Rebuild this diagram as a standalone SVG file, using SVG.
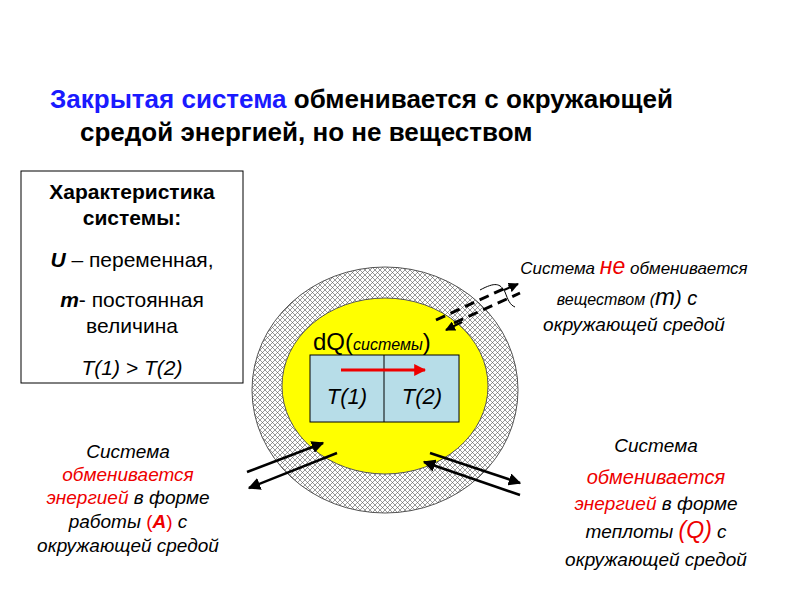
<svg xmlns="http://www.w3.org/2000/svg" width="800" height="600" viewBox="0 0 800 600">
<defs>
<pattern id="hatch" width="5" height="5" patternUnits="userSpaceOnUse">
<rect width="5" height="5" fill="#fff"/>
<path d="M0,0L5,5M5,0L0,5" stroke="#555" stroke-width="0.6"/>
</pattern>
<marker id="ah" viewBox="0 0 10 10" refX="9" refY="5" markerWidth="5" markerHeight="5" orient="auto"><path d="M0,0L10,5L0,10z" fill="#000"/></marker>
<marker id="rh" viewBox="0 0 10 10" refX="9" refY="5" markerWidth="4" markerHeight="4" orient="auto"><path d="M0,0L10,5L0,10z" fill="#e00"/></marker>
</defs>
<style>
text{font-family:"Liberation Sans",Arial,sans-serif;fill:#000}
.it{font-style:italic}
.r{fill:#e00}
.b{fill:#1a1aff}
.arr{stroke:#000;stroke-width:2.5;fill:none}
.dash{stroke:#000;stroke-width:3;stroke-dasharray:10 6;fill:none}
</style>
<g id="title" font-weight="bold" font-size="26">
<text x="50" y="108"><tspan class="b">Закрытая система</tspan> обменивается с окружающей</text>
<text x="80" y="141">средой энергией, но не веществом</text>
</g>
<g id="characteristics">
<rect x="21" y="171" width="222" height="212" fill="#fff" stroke="#000"/>
<g font-size="21" text-anchor="middle">
<text x="132" y="199" font-weight="bold">Характеристика</text>
<text x="132" y="225" font-weight="bold">системы:</text>
<text x="132" y="267"><tspan class="it" font-weight="bold">U</tspan> – переменная,</text>
<text x="132" y="307"><tspan class="it" font-weight="bold">m</tspan>- постоянная</text>
<text x="132" y="333">величина</text>
<text x="132" y="375" class="it">T(1) &gt; T(2)</text>
</g>
</g>
<g id="system">
<ellipse cx="385" cy="390" rx="133" ry="123" fill="url(#hatch)" stroke="#555"/>
<ellipse cx="385" cy="386" rx="103" ry="88" fill="#ffff00" stroke="#555"/>
<text x="313" y="350" font-size="24">dQ(<tspan class="it" font-size="16">системы</tspan>)</text>
<rect x="310" y="355" width="149" height="67" fill="#b7dde8" stroke="#000"/>
<line x1="384" y1="355" x2="384" y2="422" stroke="#000"/>
<text x="347" y="404" class="it" font-size="22" text-anchor="middle">T(1)</text>
<text x="422" y="404" class="it" font-size="22" text-anchor="middle">T(2)</text>
</g>
<g id="connectors">
<line x1="341" y1="370" x2="425" y2="370" stroke="#e00" stroke-width="3" marker-end="url(#rh)"/>
<line class="arr" x1="247" y1="472" x2="323" y2="443" marker-end="url(#ah)"/>
<line class="arr" x1="337" y1="453" x2="249" y2="488" marker-end="url(#ah)"/>
<line class="arr" x1="520" y1="495" x2="424" y2="462" marker-end="url(#ah)"/>
<line class="arr" x1="430" y1="453" x2="520" y2="483" marker-end="url(#ah)"/>
<line class="dash" x1="436" y1="320" x2="512" y2="285"/>
<line class="dash" x1="454" y1="323" x2="520" y2="293"/>
<line x1="462" y1="322" x2="446" y2="330" stroke="#000" stroke-width="2" marker-end="url(#ah)"/>
<line x1="504" y1="290" x2="518" y2="284" stroke="#000" stroke-width="2" marker-end="url(#ah)"/>
<path d="M480,290 C495,282 500,283 505,292 C508,300 510,305 515,307" stroke="#000" fill="none"/>
</g>
<g id="label-matter" text-anchor="middle">
<text x="634" y="274" class="it" font-size="17">Система <tspan class="r" font-size="23">не</tspan> обменивается</text>
<text x="627" y="305" class="it" font-size="16">веществом (<tspan font-size="24">m</tspan><tspan font-size="20">) с</tspan></text>
<text x="634" y="331" class="it" font-size="19">окружающей средой</text>
</g>
<g id="label-work" text-anchor="middle" font-size="19">
<text x="128" y="458" class="it">Система</text>
<text x="128" y="481" class="it r">обменивается</text>
<text x="128" y="504" class="it"><tspan class="r">энергией</tspan> в форме</text>
<text x="128" y="528" class="it">работы <tspan class="r" font-style="normal">(<tspan font-weight="bold" font-style="italic">А</tspan>)</tspan> с</text>
<text x="128" y="552" class="it">окружающей средой</text>
</g>
<g id="label-heat" text-anchor="middle" font-size="19">
<text x="656" y="452" class="it">Система</text>
<text x="656" y="484" class="it r" font-size="20">обменивается</text>
<text x="656" y="510" class="it"><tspan class="r">энергией</tspan> в форме</text>
<text x="656" y="538" class="it">теплоты <tspan class="r" font-size="23">(Q)</tspan> с</text>
<text x="656" y="566" class="it">окружающей средой</text>
</g>
</svg>
